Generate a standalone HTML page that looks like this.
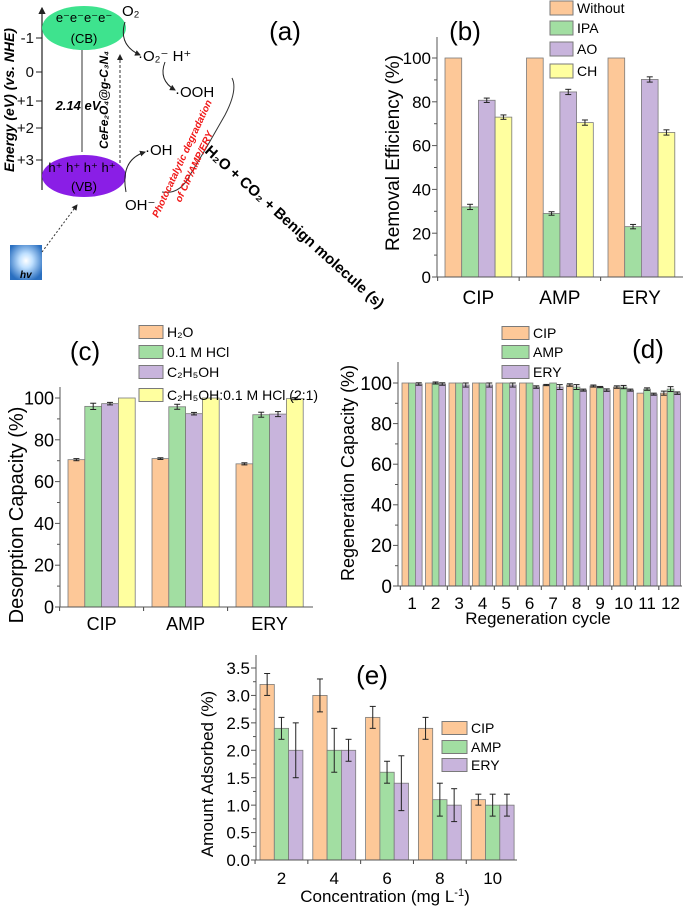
<!DOCTYPE html>
<html><head><meta charset="utf-8"><style>
body{margin:0;background:#fff}
svg{display:block;font-family:"Liberation Sans",Arial,sans-serif}
</style></head><body>
<svg id="fig" width="685" height="906" viewBox="0 0 685 906" xmlns="http://www.w3.org/2000/svg">
<defs>
<radialGradient id="sun" cx="0.5" cy="0.45" r="0.6"><stop offset="0" stop-color="#fff"/><stop offset="0.35" stop-color="#bfe0ff"/><stop offset="1" stop-color="#2a6fc0"/></radialGradient>
<marker id="ah" markerWidth="6" markerHeight="6" refX="5" refY="3" orient="auto"><path d="M0,0 L6,3 L0,6z" fill="#222"/></marker>
</defs>
<!-- Panel (a) -->
<g>
 <line x1="42" y1="190" x2="42" y2="8" stroke="#222" stroke-width="1.2" marker-end="url(#ah)"/>
 <g font-size="15" text-anchor="end" fill="#111">
  <text x="34" y="43">-1</text><line x1="36" y1="38" x2="42" y2="38" stroke="#222"/>
  <text x="34" y="77">0</text><line x1="36" y1="72" x2="42" y2="72" stroke="#222"/>
  <text x="34" y="106">+1</text><line x1="36" y1="101" x2="42" y2="101" stroke="#222"/>
  <text x="34" y="133">+2</text><line x1="36" y1="128" x2="42" y2="128" stroke="#222"/>
  <text x="34" y="165">+3</text><line x1="36" y1="160" x2="42" y2="160" stroke="#222"/>
 </g>
 <text transform="translate(14,100) rotate(-90)" text-anchor="middle" font-size="14" font-weight="bold" font-style="italic">Energy (eV) (vs. NHE)</text>
 <ellipse cx="84" cy="28" rx="42" ry="22" fill="#3ee38e"/>
 <text x="84" y="22" text-anchor="middle" font-size="13">e⁻e⁻e⁻e⁻</text>
 <text x="84" y="43" text-anchor="middle" font-size="13">(CB)</text>
 <ellipse cx="84" cy="176" rx="42" ry="21" fill="#8a1ee6"/>
 <text x="82" y="172" text-anchor="middle" font-size="13">h⁺ h⁺ h⁺ h⁺</text>
 <text x="84" y="191" text-anchor="middle" font-size="13">(VB)</text>
 <line x1="82" y1="50" x2="82" y2="152" stroke="#333"/>
 <text x="78" y="110" text-anchor="middle" font-size="13" font-weight="bold" font-style="italic">2.14 eV</text>
 <line x1="120" y1="163" x2="120" y2="55" stroke="#333" stroke-dasharray="3,2" marker-end="url(#ah)"/>
 <text transform="translate(108,100) rotate(-90)" text-anchor="middle" font-size="12" font-weight="bold" font-style="italic">CeFe₂O₄@g-C₃N₄</text>
 <text x="122" y="16" font-size="15">O₂</text>
 <path d="M125,22 Q118,45 140,55" fill="none" stroke="#222" marker-end="url(#ah)"/>
 <text x="138" y="61" font-size="15">·O₂⁻ H⁺</text>
 <path d="M165,62 Q158,80 175,90" fill="none" stroke="#222" marker-end="url(#ah)"/>
 <text x="175" y="97" font-size="15">·OOH</text>
 <path d="M126,192 Q120,160 145,152" fill="none" stroke="#222" marker-end="url(#ah)"/>
 <text x="145" y="155" font-size="15">·OH</text>
 <text x="125" y="210" font-size="15">OH⁻</text>
 <path d="M232,78 Q238,90 225,115 L205,150 L190,175 Q180,195 162,192" fill="none" stroke="#333"/>
 <text transform="translate(185,160) rotate(-65)" text-anchor="middle" font-size="10" font-weight="bold" font-style="italic" fill="#f01818">Photocatalytic degradation</text>
 <text transform="translate(197,168) rotate(-65)" text-anchor="middle" font-size="10" font-weight="bold" font-style="italic" fill="#f01818">of CIP/AMP/ERY</text>
 <text transform="translate(204,152) rotate(42)" font-size="15" font-weight="bold">H₂O + CO₂ + Benign molecule (s)</text>
 <rect x="10" y="245" width="32" height="35" fill="url(#sun)"/>
 <text x="20" y="278" font-size="10" font-weight="bold" font-style="italic">hv</text>
 <line x1="42" y1="252" x2="77" y2="205" stroke="#333" stroke-dasharray="2,2" marker-end="url(#ah)"/>
 <text x="285" y="40" font-size="26" text-anchor="middle">(a)</text>
</g>
<g id="charts"></g>
</svg>
<script>
// ---------- Panel (b) data ----------
const bCategories = ["CIP","AMP","ERY"];
const bSeriesNames = ["Without","IPA","AO","CH"];
const bWithout = [100,100,100];
const bIPA = [32,29,23];
const bAO = [80.7,84.5,90.2];
const bCH = [73,70.5,66];
const bErrWithout = [0,0,0];
const bErrIPA = [1.2,0.8,1];
const bErrAO = [1,1.2,1.2];
const bErrCH = [1,1.2,1.2];
const bTicks = [0,20,40,60,80,100];
// ---------- Panel (c) data ----------
const cCategories = ["CIP","AMP","ERY"];
const cSeriesNames = ["H₂O","0.1 M HCl","C₂H₅OH","C₂H₅OH:0.1 M HCl (2:1)"];
const cH2O = [70.5,71,68.5];
const cHCl = [96,95.8,92];
const cEtOH = [97.3,92.5,92.3];
const cMix = [100,100,99.7];
const cErrH2O = [0.5,0.4,0.5];
const cErrHCl = [1.5,1.2,1.2];
const cErrEtOH = [0.6,0.6,1.2];
const cErrMix = [0,0,0.5];
const cTicks = [0,20,40,60,80,100];
// ---------- Panel (d) data ----------
const dCategories = ["1","2","3","4","5","6","7","8","9","10","11","12"];
const dSeriesNames = ["CIP","AMP","ERY"];
const dCIP = [100,100,100,100,100,100,99,99,98.5,98,95,95];
const dAMP = [100,100,100,100,100,100,100,98,98,98,97,97];
const dERY = [99.5,99.5,99,99,99,98,98,96.5,96.5,96.5,94.5,95];
const dErrCIP = [0,0,0,0,0,0,0.3,0.6,0.5,0.6,0,1];
const dErrAMP = [0,0.5,0,0,0,0,0,1.2,0.3,0.8,0.6,1.2];
const dErrERY = [0.6,0.6,1,1,1,0.6,1.2,0.5,0.6,0.5,0.5,0.6];
const dTicks = [0,20,40,60,80,100];
// ---------- Panel (e) data ----------
const eCategories = ["2","4","6","8","10"];
const eSeriesNames = ["CIP","AMP","ERY"];
const eCIP = [3.2,3.0,2.6,2.4,1.1];
const eAMP = [2.4,2.0,1.6,1.1,1.0];
const eERY = [2.0,2.0,1.4,1.0,1.0];
const eErrCIP = [0.2,0.3,0.2,0.2,0.1];
const eErrAMP = [0.2,0.4,0.2,0.3,0.2];
const eErrERY = [0.5,0.2,0.5,0.3,0.2];
const eTicks = ["0.0","0.5","1.0","1.5","2.0","2.5","3.0","3.5"];

const ORANGE="#fdc898", GREEN="#a2dea2", PURPLE="#c8b4dc", YELLOW="#ffff9f", EDGE="#7a7a7a";
const NS="http://www.w3.org/2000/svg";
const root=document.getElementById('charts');
function mk(tag,parent,attrs){const e=document.createElementNS(NS,tag);for(const k in attrs)e.setAttribute(k,attrs[k]);parent.appendChild(e);return e;}

function chart(cfg){
  const g=mk('g',root,{});
  
  
  const y=v=>cfg.y0-(v-cfg.vmin)/(cfg.vmax-cfg.vmin)*(cfg.y0-cfg.y1);
  const nS=cfg.series.length;
  cfg.categories.forEach((cat,i)=>{
    const gx=cfg.gx0+i*cfg.gstep;
    cfg.series.forEach((s,j)=>{
      const v=s[i];
      const x=gx+j*cfg.bw;
      const r=mk('rect',g,{x:x,y:y(v),width:cfg.bw,height:cfg.y0-y(v),fill:cfg.colors[j],stroke:EDGE,'stroke-width':0.8});
      
      
      const e=cfg.errs[j][i];
      if(e>0){
        const cx=x+cfg.bw/2;
        mk('line',g,{x1:cx,x2:cx,y1:y(v+e),y2:y(v-e),stroke:'#222','stroke-width':1});
        mk('line',g,{x1:cx-3,x2:cx+3,y1:y(v+e),y2:y(v+e),stroke:'#222','stroke-width':1});
        mk('line',g,{x1:cx-3,x2:cx+3,y1:y(v-e),y2:y(v-e),stroke:'#222','stroke-width':1});
      }
    });
    const lx=gx+nS*cfg.bw/2;
    const t=mk('text',g,{x:lx,y:cfg.catY,'text-anchor':'middle','font-size':cfg.catFs});
    t.textContent=cat;
    
    
    mk('line',g,{x1:gx-(cfg.gstep-nS*cfg.bw)/2,x2:gx-(cfg.gstep-nS*cfg.bw)/2,y1:cfg.y0,y2:cfg.y0+4,stroke:'#444'});
  });
  const ax=mk('line',g,{x1:cfg.ax,x2:cfg.ax,y1:cfg.y0,y2:cfg.ytop,stroke:'#555','stroke-width':1});
  
  
  const xa=mk('line',g,{x1:cfg.ax,x2:cfg.xend,y1:cfg.y0,y2:cfg.y0,stroke:'#555','stroke-width':1});
  
  
  cfg.ticks.forEach((tk,k)=>{
    const v=parseFloat(tk);
    mk('line',g,{x1:cfg.ax-5,x2:cfg.ax,y1:y(v),y2:y(v),stroke:'#555'});
    if(k<cfg.ticks.length-1){const mv=(v+parseFloat(cfg.ticks[k+1]))/2;mk('line',g,{x1:cfg.ax-3,x2:cfg.ax,y1:y(mv),y2:y(mv),stroke:'#555'});}
    const t=mk('text',g,{x:cfg.ax-6,y:y(v)+cfg.tickFs*0.36,'text-anchor':'end','font-size':cfg.tickFs});
    t.textContent=tk;
    
    
  });
  const yt=mk('text',g,{transform:`translate(${cfg.ytX},${cfg.ytY}) rotate(-90)`,'text-anchor':'middle','font-size':cfg.ytFs});
  yt.textContent=cfg.ytitle;
  
  
  if(cfg.xtitle){
    const xt=mk('text',g,{x:cfg.xtX,y:cfg.xtY,'text-anchor':'middle','font-size':cfg.xtFs});
    xt.innerHTML=cfg.xtitle;
    
    
  }
  const pl=mk('text',g,{x:cfg.plX,y:cfg.plY,'text-anchor':'middle','font-size':26});
  pl.textContent=cfg.plabel;
  
  
  cfg.snames.forEach((n,j)=>{
    const cy=cfg.legY[j];
    const sw=mk('rect',g,{x:cfg.legX,y:cy-cfg.legH/2,width:cfg.legW,height:cfg.legH,fill:cfg.colors[j],stroke:EDGE});
    
    
    const lt=mk('text',g,{x:cfg.legX+cfg.legW+4,y:cy+cfg.legFs*0.36,'font-size':cfg.legFs});
    lt.textContent=n;
    
    
  });
}

chart({name:'panel-b-chart',key:'b',plabel:'(b)',plX:465,plY:40,categories:bCategories,snames:bSeriesNames,
  series:[bWithout,bIPA,bAO,bCH],errs:[bErrWithout,bErrIPA,bErrAO,bErrCH],colors:[ORANGE,GREEN,PURPLE,YELLOW],
  ticks:bTicks.map(String),vmin:0,vmax:100,y0:277,y1:58,ytop:37,ax:437,xend:683,gx0:445,gstep:81.5,bw:16.7,
  catY:304,catFs:19,tickFs:17,ytitle:'Removal Efficiency (%)',ytX:399,ytY:153,ytFs:19,
  legX:550,legY:[8,28,49,71],legW:23,legH:14,legFs:14});

chart({name:'panel-c-chart',key:'c',plabel:'(c)',plX:85,plY:360,categories:cCategories,snames:cSeriesNames,
  series:[cH2O,cHCl,cEtOH,cMix],errs:[cErrH2O,cErrHCl,cErrEtOH,cErrMix],colors:[ORANGE,GREEN,PURPLE,YELLOW],
  ticks:cTicks.map(String),vmin:0,vmax:100,y0:607,y1:398,ytop:387,ax:60,xend:313,gx0:68,gstep:84,bw:16.8,
  catY:630,catFs:18,tickFs:18,ytitle:'Desorption Capacity (%)',ytX:23,ytY:515,ytFs:20,
  legX:139,legW:24,legH:13,legFs:14,legY:[332,352,372,395]});

chart({name:'panel-d-chart',key:'d',plabel:'(d)',plX:648,plY:358,categories:dCategories,snames:dSeriesNames,
  series:[dCIP,dAMP,dERY],errs:[dErrCIP,dErrAMP,dErrERY],colors:[ORANGE,GREEN,PURPLE],
  ticks:dTicks.map(String),vmin:0,vmax:100,y0:586,y1:383,ytop:362,ax:398,xend:682,gx0:402,gstep:23.5,bw:6.7,
  catY:609,catFs:17,tickFs:19,ytitle:'Regeneration Capacity (%)',ytX:354,ytY:473,ytFs:18,
  xtitle:'Regeneration cycle',xtX:538,xtY:624,xtFs:17,
  legX:502,legY:[333,352,372],legW:27,legH:13,legFs:14});

chart({name:'panel-e-chart',key:'e',plabel:'(e)',plX:372,plY:684,categories:eCategories,snames:eSeriesNames,
  series:[eCIP,eAMP,eERY],errs:[eErrCIP,eErrAMP,eErrERY],colors:[ORANGE,GREEN,PURPLE],
  ticks:eTicks,vmin:0,vmax:3.5,y0:860,y1:668,ytop:655,ax:256,xend:517,gx0:260,gstep:52.8,bw:14.3,
  catY:884,catFs:17,tickFs:17,ytitle:'Amount Adsorbed (%)',ytX:213,ytY:774,ytFs:17,
  xtitle:'Concentration (mg L<tspan font-size="11" dy="-6">-1</tspan><tspan dy="6">)</tspan>',xtX:385,xtY:902,xtFs:17,
  legX:442,legY:[728,747,765],legW:25,legH:13,legFs:14});
</script>
</body></html>
